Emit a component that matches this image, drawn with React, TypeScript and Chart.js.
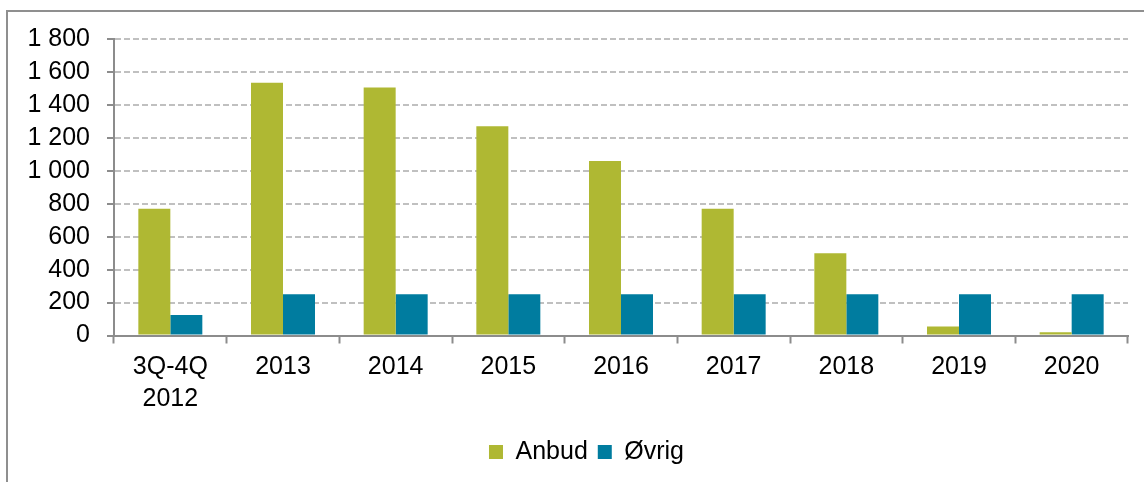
import { useEffect, useRef } from 'react';
import { Chart, registerables } from 'chart.js';

Chart.register(...registerables);

const categories: (string | string[])[] = [['3Q-4Q', '2012'], '2013', '2014', '2015', '2016', '2017', '2018', '2019', '2020'];
const anbud = [770, 1535, 1505, 1270, 1060, 770, 500, 55, 20];
const ovrig = [125, 250, 250, 250, 250, 250, 250, 250, 250];
const yMin = 0;
const yMax = 1800;
const yStep = 200;

const FONT = '"Liberation Sans", Arial, Helvetica, sans-serif';

function fmt(v: number): string {
  return String(v).replace(/\B(?=(\d{3})+(?!\d))/g, ' ');
}

const legendShift = {
  id: 'legendShift',
  afterLayout(chart: any) {
    const lg = chart.legend;
    if (lg) {
      lg.left += 9.5;
      lg.right += 9.5;
      if (typeof lg.adjustHitBoxes === 'function') lg.adjustHitBoxes();
    }
  },
};

export default function App() {
  const ref = useRef<HTMLCanvasElement | null>(null);

  useEffect(() => {
    if (!ref.current) return;
    const chart = new Chart(ref.current, {
      type: 'bar',
      data: {
        labels: categories,
        datasets: [
          {
            label: 'Anbud',
            data: anbud,
            backgroundColor: '#AFB833',
            borderWidth: 0,
            categoryPercentage: 0.568,
            barPercentage: 1,
          },
          {
            label: 'Øvrig',
            data: ovrig,
            backgroundColor: '#007C9F',
            borderWidth: 0,
            categoryPercentage: 0.568,
            barPercentage: 1,
          },
        ],
      },
      plugins: [legendShift],
      options: {
        animation: false,
        responsive: false,
        maintainAspectRatio: false,
        layout: { padding: { left: 26, right: 16, top: 39, bottom: 7.5 } },
        plugins: {
          legend: {
            position: 'bottom',
            labels: {
              boxWidth: 14,
              boxHeight: 14,
              padding: 10,
              color: '#000',
              font: { family: FONT, size: 25 },
            },
          },
          tooltip: { enabled: false },
        },
        scales: {
          x: {
            grid: {
              drawOnChartArea: false,
              drawTicks: true,
              tickLength: 8,
              tickColor: '#8c8c8c',
              tickWidth: 2,
              offset: true,
            },
            border: { display: true, color: '#8c8c8c', width: 2 },
            ticks: {
              color: '#000',
              padding: 8,
              maxRotation: 0,
              autoSkip: false,
              font: { family: FONT, size: 25, lineHeight: 1.26 },
            },
            afterFit: (scale: any) => {
              scale.height = 94;
            },
          },
          y: {
            min: yMin,
            max: yMax,
            grid: {
              color: '#c0c0c0',
              lineWidth: 2,
              drawTicks: true,
              tickLength: 7,
              tickColor: '#8c8c8c',
              tickWidth: 2,
            },
            border: { display: true, color: '#8c8c8c', width: 2, dash: [6, 3] },
            ticks: {
              stepSize: yStep,
              autoSkip: false,
              color: '#000',
              padding: 17,
              font: { family: FONT, size: 25, lineHeight: 1.0 },
              callback: (v: any) => fmt(Number(v)),
            },
            afterFit: (scale: any) => {
              scale.width = 88;
            },
          },
        },
      },
    });
    return () => chart.destroy();
  }, []);

  return (
    <div
      style={{
        position: 'absolute',
        left: 0,
        top: 0,
        width: 1144,
        height: 482,
        overflow: 'hidden',
        background: '#fff',
      }}
    >
      <div
        style={{
          position: 'absolute',
          left: 6,
          top: 10,
          width: 2000,
          height: 2000,
          border: '2px solid #8f8f8f',
        }}
      />
      <canvas
        ref={ref}
        width={1144}
        height={482}
        style={{ position: 'absolute', left: 0, top: 0, width: 1144, height: 482 }}
      />
    </div>
  );
}
